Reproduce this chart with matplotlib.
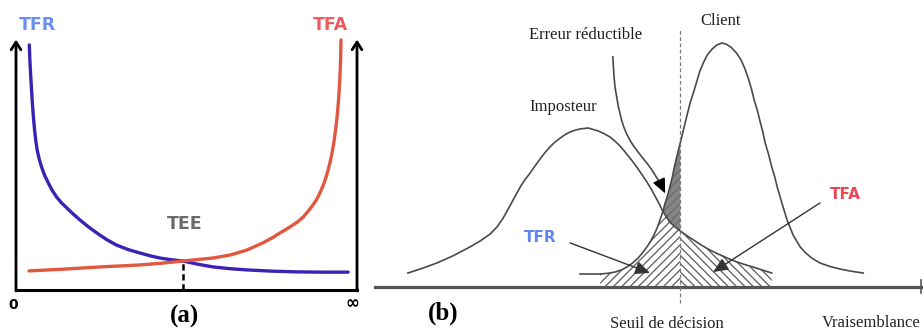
import numpy as np
import matplotlib
matplotlib.use("Agg")
import matplotlib.pyplot as plt

plt.rcParams['hatch.linewidth'] = 0.9

# ---------------- panel (a) data ----------------
tfr_x = [3.9, 4.06, 4.22, 4.5, 4.8, 5.12, 5.45, 5.8, 6.2, 6.8, 7.5, 8.4, 9.5, 10.6, 11.9, 13.3, 14.9, 16.8,
         18.8, 21.2, 23.7, 26.5, 29.5, 32.9, 36.4, 39.3, 42.2, 45.5, 48.9, 53.3, 57.8, 62.7, 67.7, 75.0,
         82.4, 90.0, 97.4]
tfr_y = [98.8, 93.0, 88.7, 82.0, 75.4, 69.5, 64.5, 60.2, 56.5, 52.8, 49.6, 46.2, 43.1, 40.2, 37.5, 35.2,
         33.1, 30.6, 28.2, 25.5, 23.0, 20.4, 18.1, 16.3, 14.9, 13.8, 12.9, 12.2, 11.7, 10.4, 9.3, 8.6,
         8.1, 7.6, 7.3, 7.2, 7.2]
tfa_x = [3.8, 14.0, 24.6, 30.5, 36.4, 42.7, 49.0, 53.4, 57.8, 62.8, 67.7, 72.4, 75.0, 77.4, 79.4, 81.2,
         82.8, 84.2, 85.7, 87.1, 88.2, 89.1, 90.1, 90.95, 91.65, 92.25, 92.75, 93.2, 93.65, 94.05, 94.38,
         94.65, 94.9, 95.08, 95.22, 95.3]
tfa_y = [7.7, 8.4, 9.3, 9.7, 10.1, 10.8, 11.7, 12.3, 12.9, 14.1, 16.1, 19.0, 20.9, 23.0, 24.6, 26.2,
         27.7, 29.4, 31.8, 34.3, 36.6, 39.1, 42.2, 45.6, 49.0, 52.4, 55.8, 59.3, 63.9, 68.5, 73.1,
         77.8, 83.2, 88.7, 94.7, 100.8]
tee_x = 49.0
tee_y = 11.7

# ---------------- panel (b) data ----------------
imp_x = [6.0, 8.6, 11.3, 14.3, 17.3, 19.2, 21.0, 22.3, 23.4, 24.3, 25.2, 25.9, 26.6, 27.4, 28.3, 29.2,
         30.1, 31.0, 31.9, 32.8, 33.8, 34.7, 35.6, 36.5, 37.4, 38.9, 40.7, 41.8, 42.9, 43.8, 44.7, 45.6,
         46.5, 47.3, 48.0, 48.8, 49.6, 50.4, 51.1, 51.8, 52.4, 53.1, 53.8, 54.7, 55.7, 57.0, 58.4, 59.7,
         61.1, 62.5, 63.9, 65.2, 66.6, 68.0, 69.5, 71.0, 72.4]
imp_y = [5.7, 7.6, 9.8, 12.8, 16.3, 18.8, 21.6, 24.6, 28.2, 31.8, 35.5, 38.4, 41.2, 43.9, 46.5, 49.4,
         52.2, 54.8, 57.1, 59.1, 60.8, 62.2, 63.3, 64.0, 64.5, 64.9, 63.7, 62.6, 61.2, 59.5, 57.6, 55.2,
         52.7, 50.4, 48.2, 45.6, 42.9, 40.0, 37.1, 34.2, 31.4, 28.8, 26.5, 24.6, 22.9, 20.8, 18.8, 16.9,
         15.1, 13.6, 12.2, 10.9, 9.8, 8.8, 7.8, 6.7, 5.7]
cli_x = [37.4, 41.1, 42.5, 43.8, 45.0, 46.0, 47.0, 48.0, 48.8, 49.6, 50.3, 50.9, 51.5, 52.0, 52.5, 52.9,
         53.4, 53.8, 54.3, 54.7, 55.2, 55.7, 56.6, 57.5, 58.2, 58.8, 59.3, 59.9, 60.6, 61.5, 62.4, 63.3,
         64.2, 65.1, 66.0, 66.8, 67.5, 68.1, 68.7, 69.2, 69.8, 70.3, 70.8, 71.2, 71.8, 72.3, 72.9, 73.4,
         74.3, 75.2, 76.3, 77.6, 78.6, 79.7, 81.2, 83.0, 84.9, 87.0, 89.1]
cli_y = [5.3, 5.3, 5.6, 6.1, 7.0, 8.2, 9.8, 11.8, 13.9, 16.3, 18.7, 21.2, 24.2, 27.3, 30.6, 33.9,
         37.4, 40.8, 45.3, 49.8, 54.3, 58.8, 67.0, 75.1, 80.0, 84.5, 88.2, 91.4, 94.6, 97.1, 98.8, 99.6,
         99.0, 97.6, 95.4, 92.7, 89.1, 85.3, 80.8, 76.3, 71.8, 67.3, 63.0, 58.8, 54.3, 49.8, 45.3, 40.8,
         33.9, 27.3, 21.2, 16.3, 13.9, 11.8, 9.8, 8.4, 7.3, 6.4, 5.7]
err_x = [43.4, 43.5, 43.6, 43.7, 43.8, 44.0, 44.2, 44.4, 44.7, 45.0, 45.4, 45.9, 46.5, 47.2, 48.0, 48.8,
         49.6, 50.4, 51.1, 51.8, 52.4]
err_y = [93.9, 90.2, 86.5, 84.0, 81.6, 78.9, 76.3, 73.6, 71.0, 68.1, 65.3, 62.6, 60.0, 57.5, 55.1, 52.8,
         50.6, 48.2, 45.7, 43.2, 40.8]
seuil = 55.7
tfr_start, tfa_end = 41.1, 72.4

fig = plt.figure(figsize=(9.23, 3.34), dpi=100)

# ================= panel (a) =================
ax = fig.add_axes([16 / 923, 44 / 334, 341 / 923, 248 / 334])
ax.set_xlim(0, 100)
ax.set_ylim(0, 100)
ax.axis('off')

ax.plot([0, 100], [0, 0], color='black', lw=2.2, clip_on=False, solid_capstyle='projecting')
for xv in (0, 100):
    ax.annotate('', xy=(xv, 101), xytext=(xv, -0.4),
                arrowprops=dict(arrowstyle='->,head_length=0.55,head_width=0.35', lw=2.0,
                                color='black', shrinkA=0, shrinkB=0), annotation_clip=False)

ax.plot(tfr_x, tfr_y, color='#3b22b5', lw=2.4, clip_on=False, solid_capstyle='round', solid_joinstyle='round')
ax.plot(tfa_x, tfa_y, color='#e0583f', lw=2.4, clip_on=False, solid_capstyle='round', solid_joinstyle='round')
ax.plot([tee_x, tee_x], [0, tee_y], color='black', lw=1.8, ls=(0, (2.5, 1.5)))

ax.text(6.2, 107, 'TFR', color='#6c8ff0', fontsize=12.5, fontweight='bold', ha='center', va='center')
ax.text(92.1, 107, 'TFA', color='#ee5a5f', fontsize=12.5, fontweight='bold', ha='center', va='center')
ax.text(49.6, 26.6, 'TEE', color='#6b6b6b', fontsize=12.5, fontweight='bold', ha='center', va='center')
ax.text(-0.9, -6.0, '0', color='black', fontsize=10, fontweight='bold', ha='center', va='center')
ax.text(98.7, -5.2, '∞', color='black', fontsize=12, fontweight='bold', ha='center', va='center')
ax.text(49.5, -10.8, '(a)', color='black', fontsize=18, fontweight='bold', family='Liberation Serif',
        ha='center', va='center')

# ================= panel (b) =================
bx = fig.add_axes([375 / 923, 47 / 334, 548 / 923, 245 / 334])
bx.set_xlim(0, 100)
bx.set_ylim(0, 100)
bx.axis('off')

curve_col = '#4a4a4a'
g1 = np.linspace(tfr_start, seuil, 400)
ci1 = np.interp(g1, cli_x, cli_y)
im1 = np.interp(g1, imp_x, imp_y)
bx.fill_between(g1, 0, np.minimum(ci1, im1), facecolor='none', edgecolor='#5a5a5a',
                hatch='////', linewidth=0)
bx.fill_between(g1, im1, ci1, where=ci1 > im1, facecolor='#858585', edgecolor='#6a6a6a',
                hatch='////', linewidth=0, interpolate=True)
g2 = np.linspace(seuil, tfa_end, 400)
bx.fill_between(g2, 0, np.interp(g2, imp_x, imp_y), facecolor='none', edgecolor='#5a5a5a',
                hatch='\\\\\\\\', linewidth=0)

bx.plot(imp_x, imp_y, color=curve_col, lw=1.2, solid_joinstyle='round')
bx.plot(cli_x, cli_y, color=curve_col, lw=1.2, solid_joinstyle='round')
bx.plot(err_x, err_y, color=curve_col, lw=1.2, solid_joinstyle='round')
bx.annotate('', xy=(52.95, 38.2), xytext=(err_x[-1], err_y[-1]),
            arrowprops=dict(arrowstyle='-|>,head_length=0.9,head_width=0.4', color='black', lw=1.0,
                            shrinkA=0, shrinkB=0))

bx.plot([0, 100], [0, 0], color='#555555', lw=2.3, clip_on=False)
bx.plot([99.6, 99.6], [-2.5, 3.0], color='#555555', lw=1.2, clip_on=False)
bx.plot([seuil, seuil], [-6.5, 105.7], color='#7a7a7a', lw=0.9, ls=(0, (3, 2)), clip_on=False)

bx.annotate('', xy=(50.2, 5.7), xytext=(35.6, 18.0),
            arrowprops=dict(arrowstyle='-|>,head_length=0.9,head_width=0.4', color='#333333', lw=1.0,
                            shrinkA=0, shrinkB=0))
bx.annotate('', xy=(61.7, 6.1), xytext=(81.2, 34.3),
            arrowprops=dict(arrowstyle='-|>,head_length=0.9,head_width=0.4', color='#333333', lw=1.0,
                            shrinkA=0, shrinkB=0))

serif = 'Liberation Serif'
bx.text(38.5, 102.9, 'Erreur réductible', family=serif, fontsize=12, color='#222222', ha='center', va='center')
bx.text(63.1, 108.6, 'Client', family=serif, fontsize=12, color='#222222', ha='center', va='center')
bx.text(34.3, 73.5, 'Imposteur', family=serif, fontsize=12, color='#222222', ha='center', va='center')
bx.text(53.3, -15.3, 'Seuil de décision', family=serif, fontsize=12, color='#222222', ha='center', va='center')
bx.text(81.6, -14.5, 'Vraisemblance', family=serif, fontsize=12, color='#222222', ha='left', va='center')
bx.text(12.4, -10.6, '(b)', family=serif, fontsize=18, fontweight='bold', color='black', ha='center', va='center')
bx.text(30.1, 20.0, 'TFR', color='#5f85f0', fontsize=11, fontweight='bold', ha='center', va='center')
bx.text(85.9, 37.6, 'TFA', color='#ec4657', fontsize=11, fontweight='bold', ha='center', va='center')

fig.savefig('out.png', dpi=100)
